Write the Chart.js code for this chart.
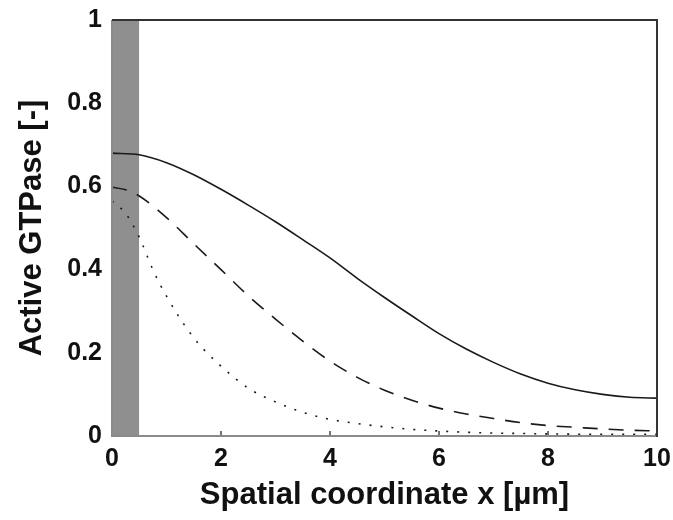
<!DOCTYPE html>
<html>
<head>
<meta charset="utf-8">
<script src="https://cdn.jsdelivr.net/npm/chart.js@4.4.1/dist/chart.umd.min.js"></script>
<style>
  html, body { margin: 0; padding: 0; background: #fff; }
  #wrap { position: relative; width: 673px; height: 520px; }
</style>
</head>
<body>
<div id="wrap"><canvas id="c" width="673" height="520"></canvas></div>
<script>
// ---- data ----
const xTicks = [0, 2, 4, 6, 8, 10];
const yTicks = [0, 0.2, 0.4, 0.6, 0.8, 1];
const membraneRegion = [0, 0.5];           // shaded zone along x
const xSolid  = [0, 0.5, 1, 1.5, 2, 2.5, 3, 3.5, 4, 4.5, 5, 5.5, 6, 6.5, 7, 7.5, 8, 8.5, 9, 9.5, 10];
const ySolid  = [0.68, 0.676, 0.657, 0.628, 0.593, 0.555, 0.515, 0.472, 0.428, 0.379, 0.333, 0.289, 0.246, 0.209, 0.177, 0.149, 0.127, 0.111, 0.100, 0.093, 0.091];
const xDashed = [0, 0.25, 0.5, 1, 1.5, 2, 2.5, 3, 3.5, 4, 4.5, 5, 5.5, 6, 6.5, 7, 7.5, 8, 8.5, 9, 9.5, 10];
const yDashed = [0.598, 0.592, 0.577, 0.525, 0.462, 0.400, 0.337, 0.281, 0.228, 0.180, 0.141, 0.110, 0.086, 0.067, 0.053, 0.042, 0.032, 0.025, 0.021, 0.017, 0.014, 0.012];
const xDotted = [0, 0.25, 0.5, 0.75, 1, 1.5, 2, 2.5, 3, 3.5, 4, 4.5, 5, 5.5, 6, 6.5, 7, 7.5, 8, 9, 10];
const yDotted = [0.565, 0.535, 0.478, 0.400, 0.336, 0.236, 0.168, 0.115, 0.082, 0.057, 0.040, 0.030, 0.022, 0.016, 0.012, 0.009, 0.007, 0.006, 0.005, 0.004, 0.004];
const xTitle = 'Spatial coordinate x [\u00b5m]';
const yTitle = 'Active GTPase [-]';

const pts = (xs, ys) => xs.map((x, i) => ({ x: x, y: ys[i] }));

const frame = {
  id: 'frame',
  afterDatasetsDraw(chart) {
    const { ctx, chartArea: a, scales } = chart;
    ctx.save();
    // inward x ticks
    ctx.strokeStyle = '#444';
    ctx.lineWidth = 1.5;
    xTicks.forEach(v => {
      if (v === 0 || v === 10) return;
      const px = scales.x.getPixelForValue(v);
      ctx.beginPath();
      ctx.moveTo(px, a.bottom);
      ctx.lineTo(px, a.bottom - 5);
      ctx.stroke();
    });
    // border
    ctx.lineWidth = 2;
    ctx.strokeStyle = '#8a8a8a';
    ctx.beginPath();
    ctx.moveTo(a.left, a.top);
    ctx.lineTo(a.left, a.bottom);
    ctx.lineTo(a.right, a.bottom);
    ctx.stroke();
    ctx.strokeStyle = '#333';
    ctx.beginPath();
    ctx.moveTo(a.left, a.top);
    ctx.lineTo(a.right, a.top);
    ctx.lineTo(a.right, a.bottom + 1);
    ctx.stroke();
    ctx.restore();
  }
};

const tickFont = { family: 'Liberation Sans, Arial, sans-serif', size: 25, weight: 'bold' };
const xTitleFont = { family: 'Liberation Sans, Arial, sans-serif', size: 31, weight: 'bold' };
const yTitleFont = { family: 'Liberation Sans, Arial, sans-serif', size: 31, weight: 'bold' };

new Chart(document.getElementById('c'), {
  type: 'line',
  data: {
    datasets: [
      {
        data: pts(membraneRegion, membraneRegion.map(() => 1)),
        borderWidth: 0, pointRadius: 0, fill: 'origin',
        backgroundColor: '#8f8f8f', borderColor: 'rgba(0,0,0,0)', order: 10
      },
      {
        data: pts(xSolid, ySolid),
        borderColor: '#1a1a1a', borderWidth: 1.6, pointRadius: 0,
        cubicInterpolationMode: 'monotone', fill: false, order: 1
      },
      {
        data: pts(xDashed, yDashed),
        borderColor: '#1a1a1a', borderWidth: 1.6, pointRadius: 0, borderDash: [15, 11],
        cubicInterpolationMode: 'monotone', fill: false, order: 1
      },
      {
        data: pts(xDotted, yDotted),
        borderColor: '#1a1a1a', borderWidth: 1.6, pointRadius: 0, borderDash: [2, 9],
        cubicInterpolationMode: 'monotone', fill: false, order: 1
      }
    ]
  },
  options: {
    responsive: false,
    animation: false,
    events: [],
    layout: { padding: { left: 0, top: 20, right: 16, bottom: 0 } },
    plugins: { legend: { display: false }, tooltip: { enabled: false } },
    scales: {
      x: {
        type: 'linear', min: 0, max: 10,
        afterBuildTicks: s => { s.ticks = xTicks.map(v => ({ value: v })); },
        afterFit: s => { s.height = 84; s.paddingLeft = 0; s.paddingRight = 0; },
        grid: { display: false, drawTicks: false },
        border: { display: false },
        ticks: { color: '#111', font: tickFont, padding: 8, maxRotation: 0, callback: v => String(v) },
        title: { display: true, text: xTitle, color: '#111', font: xTitleFont, padding: { top: 0, bottom: 6 } }
      },
      y: {
        type: 'linear', min: 0, max: 1,
        afterBuildTicks: s => { s.ticks = yTicks.map(v => ({ value: v })); },
        afterFit: s => { s.width = 112; s.paddingTop = 0; s.paddingBottom = 0; },
        grid: { display: false, drawTicks: false },
        border: { display: false },
        ticks: { color: '#111', font: tickFont, padding: 10, callback: v => String(v) },
        title: { display: true, text: yTitle, color: '#111', font: yTitleFont, padding: { top: 14, bottom: 0 } }
      }
    }
  },
  plugins: [frame]
});
</script>
</body>
</html>
